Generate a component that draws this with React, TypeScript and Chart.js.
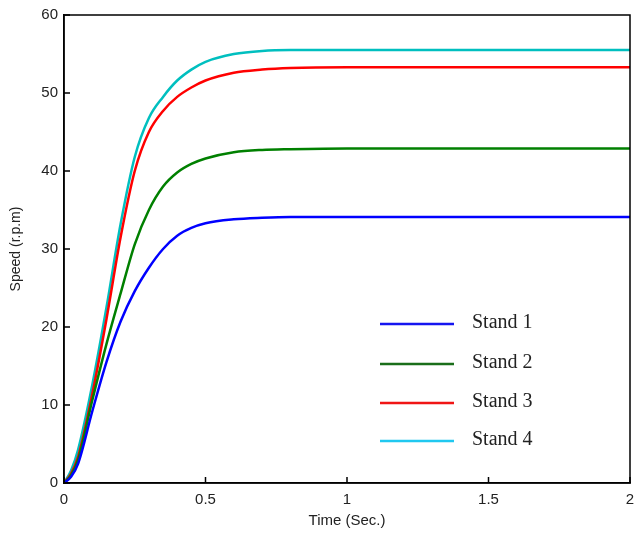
import React, { useEffect, useRef } from "react";
import { Chart, registerables } from "chart.js";

Chart.register(...registerables);

const timeSec = [0, 0.025, 0.05, 0.1, 0.15, 0.2, 0.25, 0.3, 0.35, 0.4, 0.45, 0.5, 0.6, 0.7, 0.8, 1.0, 1.5, 2.0];
const stand1 = [0, 0.8, 2.5, 9.2, 15.5, 20.7, 24.6, 27.6, 30.0, 31.7, 32.7, 33.3, 33.8, 34.0, 34.1, 34.1, 34.1, 34.1];
const stand2 = [0, 1.0, 3.0, 10.6, 17.8, 24.3, 30.6, 35.0, 38.0, 39.8, 40.9, 41.6, 42.4, 42.7, 42.8, 42.9, 42.9, 42.9];
const stand3 = [0, 1.2, 3.4, 11.4, 21.0, 31.5, 40.0, 45.0, 47.7, 49.5, 50.7, 51.6, 52.6, 53.0, 53.2, 53.3, 53.3, 53.3];
const stand4 = [0, 1.6, 4.3, 12.6, 22.5, 33.2, 41.8, 46.8, 49.5, 51.6, 53.0, 54.0, 55.0, 55.4, 55.5, 55.5, 55.5, 55.5];

const seriesLabels = ["Stand 1", "Stand 2", "Stand 3", "Stand 4"];
const seriesValues = [stand1, stand2, stand3, stand4];
const lineColors = ["#0000ff", "#008000", "#ff0000", "#00bfbf"];
const legendColors = ["#1515f0", "#1a6e1a", "#f01515", "#20c8f0"];

const xTicks = [0, 0.5, 1, 1.5, 2];
const yTicks = [0, 10, 20, 30, 40, 50, 60];

const boxPlugin = {
  id: "boxAndTicks",
  afterDraw(chart: any) {
    const { ctx, chartArea } = chart;
    const { left, right, top, bottom } = chartArea;
    const xs = chart.scales.x;
    const ys = chart.scales.y;
    ctx.save();
    ctx.strokeStyle = "#000";
    ctx.lineWidth = 1.5;
    ctx.strokeRect(left, top, right - left, bottom - top);
    ctx.beginPath();
    xTicks.forEach((v) => {
      const px = xs.getPixelForValue(v);
      ctx.moveTo(px, bottom);
      ctx.lineTo(px, bottom - 6);
    });
    yTicks.forEach((v) => {
      const py = ys.getPixelForValue(v);
      ctx.moveTo(left, py);
      ctx.lineTo(left + 6, py);
    });
    ctx.stroke();

    // legend
    const lx0 = left + 316;
    const lx1 = left + 390;
    const tx = left + 408;
    const ly = [324, 364, 403, 441];
    ctx.font = "20px 'Liberation Serif', 'Times New Roman', serif";
    ctx.textBaseline = "alphabetic";
    ctx.textAlign = "left";
    seriesLabels.forEach((lab, i) => {
      ctx.strokeStyle = legendColors[i];
      ctx.lineWidth = 2.5;
      ctx.beginPath();
      ctx.moveTo(lx0, ly[i]);
      ctx.lineTo(lx1, ly[i]);
      ctx.stroke();
      ctx.fillStyle = "#222";
      ctx.fillText(lab, tx, ly[i] + 4);
    });
    ctx.restore();
  },
};

export default function App() {
  const ref = useRef<HTMLCanvasElement | null>(null);
  useEffect(() => {
    document.body.style.margin = "0";
    if (!ref.current) return;
    const chart = new Chart(ref.current, {
      type: "line",
      data: {
        datasets: seriesValues.map((vals, i) => ({
          label: seriesLabels[i],
          data: vals.map((v, j) => ({ x: timeSec[j], y: v })),
          borderColor: lineColors[i],
          backgroundColor: lineColors[i],
          borderWidth: 2.5,
          pointRadius: 0,
          cubicInterpolationMode: "monotone" as const,
          fill: false,
        })),
      },
      options: {
        animation: false,
        responsive: true,
        maintainAspectRatio: false,
        layout: { padding: { top: 15, right: 8, left: 0, bottom: 0 } },
        plugins: { legend: { display: false }, tooltip: { enabled: false } },
        scales: {
          x: {
            type: "linear",
            min: 0,
            max: 2,
            afterFit: (s: any) => { s.height = 52; s.paddingRight = 0; },
            afterBuildTicks: (s: any) => { s.ticks = xTicks.map((v) => ({ value: v })); },
            grid: { display: true, drawOnChartArea: false, drawTicks: false },
            border: { display: true, color: "#000", width: 1.5 },
            ticks: {
              padding: 8,
              color: "#222",
              font: { family: "'Liberation Sans', Arial, sans-serif", size: 15 },
              callback: (v: any) => String(v),
            },
            title: {
              display: true,
              text: "Time (Sec.)",
              color: "#222",
              font: { family: "'Liberation Sans', Arial, sans-serif", size: 15 },
              padding: { top: 0, bottom: 5 },
            },
          },
          y: {
            type: "linear",
            min: 0,
            max: 60,
            afterFit: (s: any) => { s.width = 64; },
            afterBuildTicks: (s: any) => { s.ticks = yTicks.map((v) => ({ value: v })); },
            grid: { display: true, drawOnChartArea: false, drawTicks: false },
            border: { display: true, color: "#000", width: 1.5 },
            ticks: {
              padding: 6,
              color: "#222",
              font: { family: "'Liberation Sans', Arial, sans-serif", size: 15 },
            },
            title: {
              display: true,
              text: "Speed (r.p.m)",
              color: "#222",
              font: { family: "'Liberation Sans', Arial, sans-serif", size: 14 },
              padding: { top: 8, bottom: 0 },
            },
          },
        },
      },
      plugins: [boxPlugin],
    });
    return () => chart.destroy();
  }, []);
  return (
    <div style={{ position: "relative", width: 638, height: 535 }}>
      <canvas ref={ref} />
    </div>
  );
}
